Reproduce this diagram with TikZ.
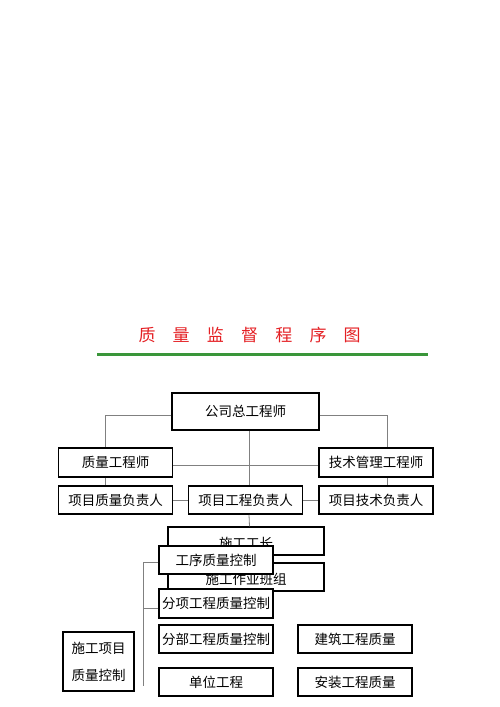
\documentclass[tikz,border=0pt]{standalone}
\usepackage{fontspec}
\setmainfont{Noto Sans CJK SC}
\usepackage{tikz}
\definecolor{titlered}{RGB}{228,32,36}
\definecolor{rulegreen}{RGB}{58,150,58}

\begin{document}
\begin{tikzpicture}[x=1pt,y=-1pt,
    post/.style={draw,line width=1.5pt,fill=white,inner sep=0pt,minimum width=114pt,minimum height=28pt,font=\fontsize{13.5}{15}\selectfont},
    link/.style={draw=gray,line width=0.8pt}]
\useasboundingbox (0,0) rectangle (500,707);
   \foreach \c [count=\n] in {质,量,监,督,程,序,图}
           \node[text=titlered,font=\fontsize{17}{19}\selectfont,inner sep=0pt](T\n) at (147+34.2*\n-34.2,335){\c};
\draw[line width=3pt,rulegreen] (97,354.5) -- (428,354.5);

\node[post,minimum width=147pt,minimum height=37pt](G) at (245.5,411.5){公司总工程师};
\node[post,minimum height=29pt](ZLGC) at (115.5,462.5){质量工程师};
\node[post,minimum height=29pt](JSGL) at (376,462.5){技术管理工程师};
\node[post](XMZL) at (115.5,500){项目质量负责人};
\node[post](XMGC) at (245.5,500){项目工程负责人};
\node[post](XMJS) at (376,500){项目技术负责人};
\node[post,minimum width=156pt,text height=16pt](SGGZ) at (246,541){施工工长};
\node[post,minimum width=156pt,text height=16pt](SGZY) at (246,577){施工作业班组};
\node[post](GXZL) at (216,560){工序质量控制};
\node[post,minimum height=29pt](FXGC) at (216,603.5){分项工程质量控制};
\node[post](FBGC) at (216,639){分部工程质量控制};
\node[post](DWGC) at (216,682){单位工程};
\node[post](JZGC) at (355,639){建筑工程质量};
\node[post](AZGC) at (355,682){安装工程质量};
\node[post,minimum width=71pt,minimum height=59pt,align=center,font=\fontsize{13.5}{27}\selectfont](SGXM) at (98.5,661.5){施工项目\\质量控制};
\coordinate (B) at (143,686);

\draw[link] ([yshift=-3.5pt]G.west) -| ([xshift=-10.5pt]ZLGC.north);
\draw[link] ([yshift=-3.5pt]G.east) -| ([xshift=11pt]JSGL.north);
\draw[link] ([xshift=3.5pt]G.south) -- ([xshift=3.5pt]XMGC.north);
\draw[link] ([yshift=-2.5pt]ZLGC.east) -- ([yshift=-2.5pt]JSGL.west);
\draw[link] ([xshift=-10.5pt]ZLGC.south) -- ([xshift=-10.5pt]XMZL.north);
\draw[link] ([xshift=11pt]JSGL.south) -- ([xshift=11pt]XMJS.north);
\draw[link] (XMZL.east) -- (XMGC.west);
\draw[link] (XMGC.east) -- (XMJS.west);
\draw[link] ([xshift=3.5pt]XMGC.south) -- ([xshift=3.5pt]SGGZ.north);
\draw[link] ([yshift=-2pt]GXZL.west) -| (B);
\draw[link] ([yshift=-4.5pt]FXGC.west) -- ([yshift=-4.5pt]FXGC.west -| B);
\end{tikzpicture}
\end{document}
